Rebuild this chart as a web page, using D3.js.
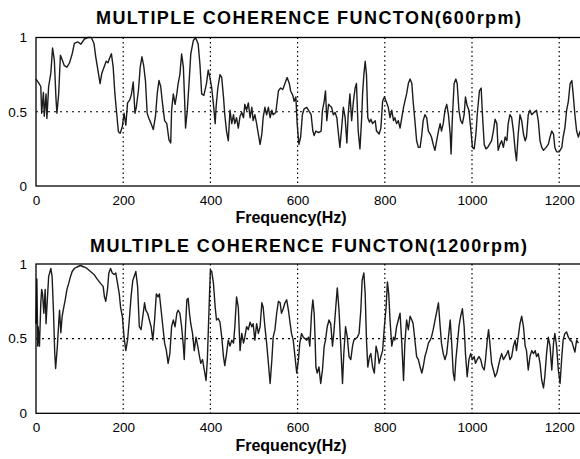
<!DOCTYPE html>
<html>
<head>
<meta charset="utf-8">
<script src="https://cdn.jsdelivr.net/npm/d3@7"></script>
<style>
  body { margin: 0; background: #fff; }
  svg { display: block; font-family: "Liberation Sans", Arial, sans-serif; }
</style>
</head>
<body>
<div id="chart"></div>
<script>
// ---- data ----
const freqTop = [0,5,11,13,17,19,23,25,29,34,38,42,46,48,52,56,60,65,71,77,83,88,96,103,111,119,127,133,137,142,147,151,156,161,165,170,173,177,181,185,189,193,198,202,206,210,215,219,223,227,230,235,239,243,247,251,255,259,264,269,274,278,282,286,290,295,300,305,309,311,315,319,323,326,330,334,338,341,343,347,351,355,361,366,372,376,380,385,391,395,399,403,407,411,413,417,422,426,430,433,437,441,445,449,453,456,460,464,468,472,476,479,483,487,491,495,498,502,506,510,514,518,521,525,529,533,537,541,544,550,556,561,566,571,576,581,584,589,592,596,599,603,607,611,615,621,631,635,638,642,648,654,657,661,664,667,671,674,678,682,686,690,693,697,701,705,709,713,716,720,724,728,732,735,739,743,747,749,752,755,758,761,765,768,772,778,781,787,791,795,799,803,808,812,816,820,823,827,831,835,839,843,846,850,854,858,862,865,869,873,877,881,885,888,892,896,900,904,907,911,915,919,923,927,930,934,938,942,946,950,952,955,959,963,966,970,974,978,982,985,989,993,997,1001,1005,1009,1012,1017,1021,1024,1028,1032,1036,1040,1045,1049,1053,1057,1060,1064,1068,1072,1076,1080,1083,1087,1091,1095,1099,1102,1106,1110,1114,1118,1122,1125,1129,1133,1137,1142,1148,1152,1156,1160,1164,1170,1175,1179,1183,1187,1190,1194,1200,1206,1209,1213,1217,1221,1225,1229,1232,1236,1240,1244,1248];
const cohTop = [0.72,0.70,0.67,0.49,0.63,0.47,0.62,0.455,0.67,0.76,0.93,0.85,0.58,0.49,0.62,0.88,0.85,0.81,0.80,0.83,0.89,0.96,0.97,0.955,0.99,1.0,1.0,0.96,0.87,0.78,0.69,0.76,0.80,0.84,0.83,0.87,0.89,0.80,0.62,0.49,0.365,0.355,0.40,0.49,0.41,0.56,0.58,0.62,0.70,0.49,0.53,0.645,0.80,0.87,0.81,0.71,0.49,0.455,0.42,0.38,0.47,0.62,0.71,0.67,0.56,0.44,0.42,0.31,0.29,0.51,0.62,0.55,0.62,0.69,0.75,0.89,0.80,0.57,0.39,0.51,0.69,0.89,0.98,1.0,0.955,0.82,0.62,0.61,0.69,0.78,0.73,0.66,0.55,0.42,0.53,0.66,0.75,0.73,0.60,0.48,0.37,0.305,0.51,0.42,0.48,0.42,0.46,0.39,0.47,0.495,0.46,0.55,0.51,0.56,0.46,0.53,0.44,0.48,0.42,0.35,0.28,0.35,0.46,0.53,0.48,0.53,0.46,0.51,0.48,0.495,0.64,0.66,0.65,0.69,0.73,0.69,0.64,0.61,0.57,0.60,0.42,0.28,0.33,0.48,0.52,0.53,0.48,0.37,0.34,0.37,0.36,0.37,0.51,0.57,0.64,0.44,0.55,0.54,0.53,0.48,0.495,0.46,0.37,0.26,0.39,0.53,0.46,0.29,0.48,0.62,0.44,0.57,0.66,0.69,0.37,0.25,0.46,0.62,0.75,0.84,0.75,0.46,0.43,0.45,0.42,0.44,0.37,0.35,0.39,0.57,0.60,0.57,0.53,0.46,0.51,0.44,0.46,0.42,0.44,0.39,0.46,0.53,0.57,0.62,0.69,0.72,0.69,0.57,0.44,0.305,0.26,0.26,0.35,0.44,0.48,0.46,0.37,0.35,0.33,0.28,0.24,0.305,0.37,0.42,0.37,0.42,0.51,0.55,0.48,0.35,0.215,0.46,0.69,0.72,0.69,0.51,0.44,0.42,0.48,0.60,0.54,0.51,0.39,0.26,0.25,0.35,0.48,0.64,0.66,0.48,0.28,0.25,0.26,0.28,0.305,0.37,0.45,0.42,0.24,0.28,0.305,0.26,0.33,0.305,0.42,0.48,0.46,0.37,0.24,0.17,0.35,0.48,0.44,0.35,0.305,0.33,0.48,0.51,0.48,0.495,0.51,0.44,0.305,0.26,0.24,0.26,0.28,0.33,0.37,0.35,0.26,0.23,0.23,0.26,0.33,0.39,0.51,0.57,0.69,0.71,0.62,0.48,0.37,0.33,0.37];

const freqBottom = [0,2,4,5,8,11,13,15,18,21,23,26,29,34,37,40,43,45,49,52,54,57,60,63,67,71,75,79,83,88,94,102,110,117,125,133,140,148,154,157,160,164,167,171,175,179,183,187,191,194,198,202,206,210,214,218,222,225,229,233,237,241,245,249,252,256,260,264,268,272,276,280,283,287,291,295,299,303,307,311,315,319,323,326,330,334,338,340,343,346,349,352,355,359,363,367,371,375,378,382,386,390,393,395,398,400,403,407,411,414,418,422,426,430,433,437,441,445,449,453,456,460,464,468,472,476,479,483,487,491,495,498,502,506,510,514,518,521,525,529,533,537,541,544,548,552,556,560,563,567,571,575,579,583,586,590,594,598,602,605,609,613,617,621,625,628,632,635,638,640,642,645,649,653,657,661,664,668,672,676,680,683,687,691,695,699,703,706,710,714,718,722,726,729,733,737,741,745,748,752,755,758,761,765,768,772,776,780,784,787,791,795,799,803,806,809,812,816,820,823,827,831,835,839,843,846,850,854,858,862,865,869,873,877,881,885,888,892,896,900,904,907,911,915,919,923,927,930,934,938,942,946,950,953,957,960,963,966,970,974,978,982,985,989,993,997,1001,1005,1008,1012,1016,1020,1024,1028,1031,1035,1038,1041,1045,1049,1053,1057,1060,1064,1068,1072,1076,1080,1083,1087,1091,1095,1099,1102,1106,1110,1114,1118,1122,1125,1129,1133,1137,1141,1145,1148,1152,1156,1160,1164,1167,1171,1175,1179,1183,1187,1190,1194,1198,1202,1206,1209,1213,1217,1221,1225,1229,1232,1236,1240,1244];
const cohBottom = [0.60,0.90,0.45,0.58,0.45,0.74,0.83,0.80,0.67,0.83,0.60,0.76,0.915,0.97,0.915,0.69,0.40,0.30,0.45,0.60,0.69,0.54,0.65,0.70,0.76,0.83,0.87,0.915,0.95,0.97,0.98,0.99,0.98,0.97,0.95,0.93,0.90,0.87,0.85,0.78,0.75,0.83,0.94,0.97,0.94,0.93,0.94,0.87,0.80,0.71,0.65,0.51,0.42,0.49,0.625,0.78,0.89,0.915,0.95,0.85,0.58,0.56,0.65,0.74,0.69,0.67,0.625,0.58,0.49,0.625,0.80,0.78,0.80,0.69,0.58,0.47,0.42,0.335,0.40,0.58,0.625,0.58,0.67,0.69,0.67,0.58,0.45,0.36,0.58,0.76,0.77,0.67,0.60,0.535,0.42,0.51,0.45,0.38,0.335,0.36,0.29,0.22,0.36,0.535,0.80,0.96,0.95,0.87,0.71,0.625,0.635,0.61,0.51,0.38,0.32,0.40,0.49,0.45,0.49,0.47,0.58,0.78,0.71,0.42,0.535,0.47,0.51,0.58,0.56,0.61,0.58,0.60,0.49,0.60,0.535,0.58,0.74,0.71,0.58,0.47,0.335,0.20,0.36,0.51,0.56,0.67,0.75,0.74,0.67,0.70,0.74,0.76,0.69,0.60,0.535,0.49,0.38,0.27,0.36,0.47,0.535,0.51,0.50,0.49,0.51,0.45,0.67,0.76,0.67,0.51,0.31,0.27,0.31,0.20,0.29,0.45,0.49,0.58,0.625,0.60,0.45,0.535,0.69,0.84,0.69,0.45,0.20,0.40,0.58,0.51,0.38,0.36,0.45,0.49,0.50,0.51,0.535,0.69,0.89,0.94,0.80,0.49,0.31,0.38,0.40,0.31,0.27,0.45,0.40,0.335,0.38,0.42,0.58,0.71,0.88,0.80,0.625,0.45,0.51,0.49,0.58,0.625,0.67,0.47,0.22,0.47,0.625,0.56,0.65,0.625,0.60,0.49,0.38,0.36,0.31,0.27,0.31,0.38,0.42,0.47,0.49,0.51,0.56,0.62,0.68,0.74,0.58,0.47,0.40,0.36,0.40,0.51,0.625,0.49,0.27,0.22,0.36,0.45,0.58,0.65,0.70,0.58,0.40,0.245,0.36,0.40,0.36,0.38,0.335,0.36,0.38,0.36,0.31,0.29,0.36,0.49,0.56,0.47,0.335,0.29,0.245,0.27,0.31,0.36,0.40,0.36,0.38,0.40,0.42,0.36,0.38,0.45,0.49,0.42,0.51,0.60,0.65,0.58,0.45,0.42,0.29,0.38,0.42,0.40,0.42,0.38,0.40,0.335,0.22,0.17,0.245,0.40,0.51,0.45,0.29,0.47,0.535,0.45,0.29,0.20,0.38,0.49,0.535,0.545,0.51,0.49,0.48,0.45,0.41,0.49,0.47];

const xTicks = [0, 200, 400, 600, 800, 1000, 1200];
const yTicks = [0, 0.5, 1];
const xGrid = [200, 400, 600, 800, 1000, 1200];
const yGrid = [0.5];
const titles = ["MULTIPLE COHERENCE FUNCTON(600rpm)", "MULTIPLE COHERENCE FUNCTON(1200rpm)"];
const xLabel = "Frequency(Hz)";

// ---- layout ----
const W = 580, H = 459;
const svg = d3.select("#chart").append("svg")
    .attr("width", W)
    .attr("height", H);

const x = d3.scaleLinear().domain([0, 1250]).range([36, 581]);

function drawPanel(freq, coh, title, titleLen, top, bottom, titleY, labelY) {
    const y = d3.scaleLinear().domain([0, 1]).range([bottom, top]);
    const g = svg.append("g");

    // dotted grid
    g.selectAll(".vgrid")
        .data(xGrid)
        .join("line")
        .attr("x1", d => x(d)).attr("x2", d => x(d))
        .attr("y1", top).attr("y2", bottom)
        .attr("stroke", "#000")
        .attr("stroke-width", 1.2)
        .attr("stroke-dasharray", "1.5 3");

    g.selectAll(".hgrid")
        .data(yGrid)
        .join("line")
        .attr("x1", x(0)).attr("x2", x(1250))
        .attr("y1", d => y(d)).attr("y2", d => y(d))
        .attr("stroke", "#000")
        .attr("stroke-width", 1.2)
        .attr("stroke-dasharray", "2 4");

    // the curve
    const pts = freq.map((f, i) => [f, coh[i]]);
    g.append("path")
        .datum(pts)
        .attr("fill", "none")
        .attr("stroke", "#1c1c1c")
        .attr("stroke-width", 1.4)
        .attr("stroke-linejoin", "round")
        .attr("d", d3.line().x(d => x(d[0])).y(d => y(d[1])));

    // axes box
    g.append("rect")
        .attr("x", x(0)).attr("y", top)
        .attr("width", x(1250) - x(0)).attr("height", bottom - top)
        .attr("fill", "none")
        .attr("stroke", "#000")
        .attr("stroke-width", 1.3);

    // x axis
    const xAxis = g.append("g")
        .attr("transform", `translate(0,${bottom})`)
        .call(d3.axisBottom(x).tickValues(xTicks).tickSize(0).tickPadding(9).tickFormat(d => String(d)));
    xAxis.select(".domain").remove();
    xAxis.selectAll("text")
        .attr("font-size", 13.5)
        .attr("font-family", "Liberation Sans, Arial, sans-serif")
        .attr("fill", "#000");

    // y axis
    const yAxis = g.append("g")
        .attr("transform", `translate(${x(0)},0)`)
        .call(d3.axisLeft(y).tickValues(yTicks).tickSize(0).tickPadding(9).tickFormat(d => String(d)));
    yAxis.select(".domain").remove();
    yAxis.selectAll("text")
        .attr("font-size", 13.5)
        .attr("font-family", "Liberation Sans, Arial, sans-serif")
        .attr("fill", "#000");

    // title
    g.append("text")
        .attr("x", 308.5)
        .attr("y", titleY)
        .attr("text-anchor", "middle")
        .attr("font-size", 18)
        .attr("font-weight", "bold")
        .attr("textLength", titleLen)
        .attr("lengthAdjust", "spacing")
        .text(title);

    // x label
    g.append("text")
        .attr("x", 291)
        .attr("y", labelY)
        .attr("text-anchor", "middle")
        .attr("font-size", 16)
        .attr("font-weight", "bold")
        .text(xLabel);
}

drawPanel(freqTop, cohTop, titles[0], 425, 37.5, 186, 24, 223);
drawPanel(freqBottom, cohBottom, titles[1], 437, 264, 413.3, 252, 451);
</script>
</body>
</html>
